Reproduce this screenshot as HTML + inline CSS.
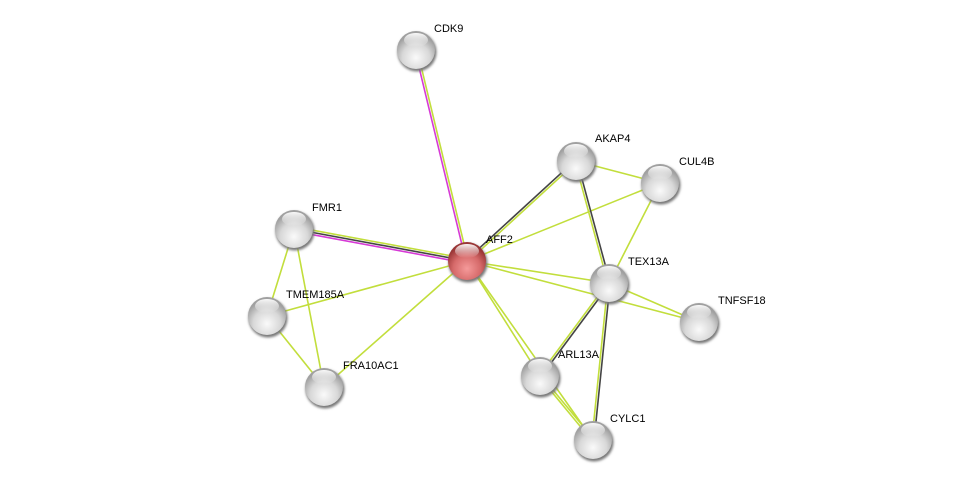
<!DOCTYPE html>
<html><head><meta charset="utf-8"><style>
html,body{margin:0;padding:0;background:#fff;}
svg{display:block;}
text{font-family:"Liberation Sans",sans-serif;font-size:11px;fill:#000;}
</style></head><body>
<svg id="s" width="975" height="485" viewBox="0 0 975 485" xmlns="http://www.w3.org/2000/svg">
<defs>
<radialGradient id="g" cx="50%" cy="70%" r="60%">
<stop offset="0" stop-color="#fafafa"/><stop offset="0.6" stop-color="#d8d8d8"/><stop offset="1" stop-color="#a0a0a0"/>
</radialGradient>
<radialGradient id="r" cx="50%" cy="70%" r="60%">
<stop offset="0" stop-color="#f59a9a"/><stop offset="0.6" stop-color="#d66a6a"/><stop offset="1" stop-color="#9a3636"/>
</radialGradient>
<linearGradient id="hl" x1="0" y1="0" x2="0" y2="1">
<stop offset="0" stop-color="#fff" stop-opacity="0.95"/><stop offset="1" stop-color="#fff" stop-opacity="0"/>
</linearGradient>
<filter id="sh" x="-30%" y="-30%" width="160%" height="160%"><feGaussianBlur stdDeviation="1.2"/></filter>
</defs>
<g id="edges"></g>
<g id="nodes"></g>
</svg>
<script>
var N={CDK9:[416,50],AKAP4:[576,161],CUL4B:[660,183],FMR1:[294,229],AFF2:[467,261],TEX13A:[609,283],TMEM185A:[267,316],TNFSF18:[699,322],ARL13A:[540,376],FRA10AC1:[324,387],CYLC1:[593,440]};
var G='#c2de3c',K='#444',M='#d63ad6';
var E=[["AFF2","CDK9",[M,G]],["AFF2","FMR1",[M,K,G]],["AFF2","AKAP4",[K,G]],["AFF2","CUL4B",[G]],["AFF2","TEX13A",[G]],["AFF2","TNFSF18",[G]],["AFF2","TMEM185A",[G]],["AFF2","FRA10AC1",[G]],["AFF2","ARL13A",[G]],["AFF2","CYLC1",[G]],["AKAP4","CUL4B",[G]],["AKAP4","TEX13A",[K,G]],["CUL4B","TEX13A",[G]],["TEX13A","TNFSF18",[G]],["TEX13A","ARL13A",[K,G]],["TEX13A","CYLC1",[K,G]],["ARL13A","CYLC1",[G,G]],["FMR1","TMEM185A",[G]],["FMR1","FRA10AC1",[G]],["TMEM185A","FRA10AC1",[G]]];
var ns="http://www.w3.org/2000/svg",eg=document.getElementById('edges'),ng=document.getElementById('nodes');
E.forEach(function(e){var a=N[e[0]],b=N[e[1]],dx=b[0]-a[0],dy=b[1]-a[1],l=Math.hypot(dx,dy),px=-dy/l,py=dx/l,n=e[2].length;
e[2].forEach(function(c,i){var o=(i-(n-1)/2)*2.2;var L=document.createElementNS(ns,'line');
L.setAttribute('x1',a[0]+px*o);L.setAttribute('y1',a[1]+py*o);L.setAttribute('x2',b[0]+px*o);L.setAttribute('y2',b[1]+py*o);
L.setAttribute('stroke',c);L.setAttribute('stroke-width',1.6);eg.appendChild(L);});});
var lab={CDK9:[18,-19],AKAP4:[19,-20],CUL4B:[19,-19],FMR1:[18,-19],AFF2:[19,-19],TEX13A:[19,-19],TMEM185A:[19,-19],TNFSF18:[19,-19],ARL13A:[18,-19],FRA10AC1:[19,-19],CYLC1:[17,-19]};
for(var k in N){var p=N[k];
var s=document.createElementNS(ns,'circle');s.setAttribute('cx',p[0]+1);s.setAttribute('cy',p[1]+2);s.setAttribute('r',19.5);s.setAttribute('fill','#777');s.setAttribute('filter','url(#sh)');ng.appendChild(s);
var c=document.createElementNS(ns,'circle');c.setAttribute('cx',p[0]);c.setAttribute('cy',p[1]);c.setAttribute('r',19);c.setAttribute('fill',k=='AFF2'?'url(#r)':'url(#g)');ng.appendChild(c);
var h=document.createElementNS(ns,'ellipse');h.setAttribute('cx',p[0]);h.setAttribute('cy',p[1]-10);h.setAttribute('rx',12);h.setAttribute('ry',7);h.setAttribute('fill','url(#hl)');ng.appendChild(h);
var t=document.createElementNS(ns,'text');t.setAttribute('x',p[0]+lab[k][0]);t.setAttribute('y',p[1]+lab[k][1]+1);t.textContent=k;ng.appendChild(t);}
</script>
</body></html>
